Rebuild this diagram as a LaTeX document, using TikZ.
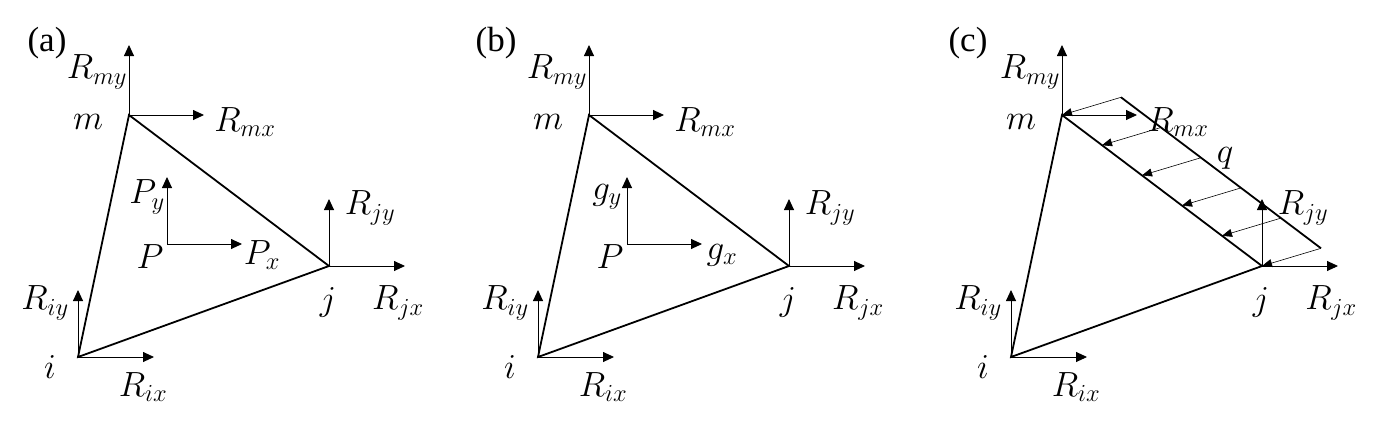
\RequirePackage{fix-cm}
\documentclass[tikz,border=0pt]{standalone}
\usepackage{fontspec}
\newfontfamily\tagfont{Liberation Serif}
\usetikzlibrary{arrows.meta, calc}

\tikzset{
  member/.style={line width=1.8pt},
  force/.style={line width=0.9pt,-{Triangle[length=11pt,width=10pt]}},
  load/.style={line width=0.6pt,-{Triangle[length=10pt,width=8pt]}},
  lbl/.style={inner sep=0pt,font=\fontsize{35}{40}\selectfont},
  tag/.style={inner sep=0pt,font=\tagfont\fontsize{35}{40}\selectfont},
}

\begin{document}
\begin{tikzpicture}[x=1pt,y=-1pt]
  \useasboundingbox (0,0) rectangle (1382,429);

  % Panel tags
  \node[tag] (taga) at (47,43) {(a)};
  \node[tag] (tagb) at (496,43) {(b)};
  \node[tag] (tagc) at (968,43) {(c)};

  % Triangular element with nodal forces
  \foreach \dx/\p in {0/a, 460/b, 933/c}{
    \begin{scope}[xshift=\dx pt]
      \coordinate (i\p) at (78,357);
      \coordinate (j\p) at (329,266);
      \coordinate (m\p) at (129,115);
      \draw[member] (i\p) -- (j\p) -- (m\p) -- cycle;

      \draw[force] (m\p) -- ++(0,-70);
      \draw[force] (m\p) -- ++(75,0);
      \draw[force] (j\p) -- ++(0,-67);
      \draw[force] (j\p) -- ++(76,0);
      \draw[force] (i\p) -- ++(0,-67);
      \draw[force] (i\p) -- ++(76,0);

      \node[lbl] (lm\p) at (88,122) {$m$};
      \node[lbl] (lj\p) at (328,302) {$j$};
      \node[lbl] (li\p) at (50,367) {$i$};
      \node[lbl] (Rmy\p) at (97,72) {$R_{my}$};
      \node[lbl] (Rmx\p) at (245,122) {$R_{mx}$};
      \node[lbl] (Rjy\p) at (370,208) {$R_{jy}$};
      \node[lbl] (Rjx\p) at (398,303) {$R_{jx}$};
      \node[lbl] (Riy\p) at (45,303) {$R_{iy}$};
      \node[lbl] (Rix\p) at (143,387) {$R_{ix}$};
    \end{scope}
  }

  % Body forces
  \foreach \dx/\p/\f in {0/a/P, 460/b/g}{
    \begin{scope}[xshift=\dx pt]
      \coordinate (o\p) at (167,244);
      \draw[force] (o\p) -- ++(0,-67);
      \draw[force] (o\p) -- ++(75,0);
      \node[lbl] (lP\p) at (150,257) {$P$};
      \node[lbl] (fy\p) at (147,197) {$\f_y$};
      \node[lbl] (fx\p) at (262,255) {$\f_x$};
    \end{scope}
  }

  % Surface load q on edge m-j
  \coordinate (qa) at ($(mc)+(59,-17.7)$);
  \coordinate (qb) at ($(jc)+(59,-17.7)$);
  \draw[member] (qa) -- (qb);
  \foreach \k in {0,...,5}
    \draw[load] ($(qa)!\k/5!(qb)$) -- ($(mc)!\k/5!(jc)$);
  \node[lbl] (lq) at (1225,158) {$q$};
\end{tikzpicture}
\end{document}
